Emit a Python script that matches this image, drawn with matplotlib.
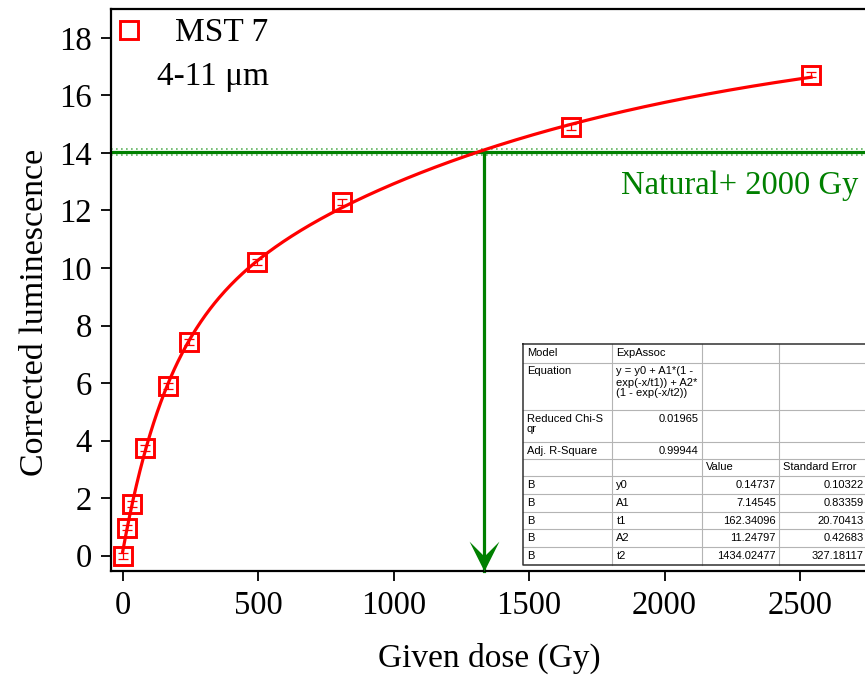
import numpy as np
import matplotlib
matplotlib.use("Agg")
import matplotlib.pyplot as plt
from matplotlib.path import Path
from matplotlib.lines import Line2D

plt.rcParams["font.family"] = ["Liberation Serif", "DejaVu Serif"]

# Measured regenerated doses and corrected luminescence
dose_gy = [0, 17, 35, 82, 166, 246, 497, 808, 1654, 2541]
lum = [0.0, 0.98, 1.79, 3.74, 5.90, 7.44, 10.22, 12.29, 14.90, 16.72]
lum_err = [0.10, 0.10, 0.10, 0.10, 0.10, 0.10, 0.10, 0.10, 0.10, 0.10]

# ExpAssoc fit parameters (value, standard error)
fit_names = ["y0", "A1", "t1", "A2", "t2"]
fit_values = [0.14737, 7.14545, 162.34096, 11.24797, 1434.02477]
fit_errors = [0.10322, 0.83359, 20.70413, 0.42683, 327.18117]
reduced_chi_sqr = 0.01965
adj_r_square = 0.99944

# Natural + 2000 Gy signal level and its uncertainty band
natural_level = 14.03
natural_err = 0.11
natural_dose = 1333

x_ticks = [0, 500, 1000, 1500, 2000, 2500]
y_ticks = [0, 2, 4, 6, 8, 10, 12, 14, 16, 18]

W, H = 865, 677
fig = plt.figure(figsize=(W / 100, H / 100), dpi=100)

px_per_gy = 0.2709
x0_px, y_bot_px, y_top_px, left_px = 122.7, 570.7, 9.0, 110.8
xmin, xmax = -44, 2750
ymin, ymax = -0.52, 19.0
right_px = x0_px + xmax * px_per_gy
ax_w_px = right_px - left_px
ax_h_px = y_bot_px - y_top_px
ax = fig.add_axes([left_px / W, 1 - y_bot_px / H, ax_w_px / W, ax_h_px / H])
ax.set_xlim(xmin, xmax)
ax.set_ylim(ymin, ymax)

red = "#ff0000"
green = "#008000"

# fitted curve from the tabulated parameters
y0, A1, t1, A2, t2 = fit_values
xf = np.linspace(0, max(dose_gy), 600)
yf = y0 + A1 * (1 - np.exp(-xf / t1)) + A2 * (1 - np.exp(-xf / t2))
ax.plot(xf, yf, color=red, lw=2.3, zorder=3)

ax.errorbar(dose_gy, lum, yerr=lum_err, fmt="none", ecolor=red,
            elinewidth=0.9, capsize=3.5, capthick=0.9, zorder=4)
ax.plot(dose_gy, lum, ls="none", marker="s", ms=12.5, mfc="none",
        mec=red, mew=2.1, zorder=5)

# natural level line with dotted error band
ax.axhline(natural_level, color=green, lw=2.3, zorder=2)
for s in (-1, 1):
    ax.axhline(natural_level + s * natural_err, color="#5fb35f", lw=1.2,
               ls=(0, (1.0, 2.0)), zorder=2)
ax.plot([natural_dose, natural_dose], [natural_level, ymin], color=green,
        lw=2.3, zorder=2, clip_on=False)
head = Path([(0, 0), (-15, 30), (0, 15), (15, 30), (0, 0)],
            [Path.MOVETO, Path.LINETO, Path.LINETO, Path.LINETO, Path.CLOSEPOLY])
ax.plot([natural_dose], [ymin], marker=head, ms=43, color=green, mew=0,
        ls="none", clip_on=False, zorder=6)
ax.text(2714, 12.86, "Natural+ 2000 Gy", color=green, fontsize=23.5,
        ha="right", va="center")

# axes styling
for side in ("left", "bottom", "top"):
    ax.spines[side].set_linewidth(1.6)
ax.spines["right"].set_visible(False)
ax.set_xticks(x_ticks)
ax.set_yticks(y_ticks)
ax.tick_params(direction="out", length=7.5, width=1.3, labelsize=23.5, pad=6)
ax.tick_params(axis="x", pad=7)
ax.set_xlabel("Given dose (Gy)", fontsize=24)
ax.xaxis.set_label_coords((489 - left_px) / ax_w_px, -(643 - y_bot_px) / ax_h_px)
ax.set_ylabel("Corrected luminescence", fontsize=24.5)
ax.yaxis.set_label_coords(-(left_px - 50) / ax_w_px, (y_bot_px - 312) / ax_h_px)

# legend and sample annotation
proxy = Line2D([], [], ls="none", marker="s", ms=12.5, mfc="none", mec=red, mew=2.1)
ax.legend([proxy], ["MST 7"], loc="center left",
          bbox_to_anchor=(112 / W, 1 - 33 / H), bbox_transform=fig.transFigure,
          frameon=False, fontsize=24, handlelength=1.0, handletextpad=0.89,
          borderpad=0, borderaxespad=0)
fig.text(157 / W, 1 - 77 / H, "4-11 μm", fontsize=24, ha="left", va="center")

# fit report table drawn in pixel space
ov = fig.add_axes([0, 0, 1, 1], zorder=10)
ov.set_xlim(0, W)
ov.set_ylim(H, 0)
ov.axis("off")
ov.patch.set_visible(False)

cols = [522.7, 612.3, 701.7, 779.3, 867.0]
rows = [344.3, 362.5, 409.5, 441.5, 458.5, 476.0, 494.0, 511.5, 529.0, 547.0, 565.0]
ov.fill_between([cols[0], cols[-1]], rows[0], rows[-1], color="white", zorder=1)
for yy in rows[1:-1]:
    ov.plot([cols[0], cols[-1]], [yy, yy], color="#b4b4b4", lw=0.8, zorder=2)
for xx in cols[1:-1]:
    ov.plot([xx, xx], [rows[0], rows[-1]], color="#b4b4b4", lw=0.8, zorder=2)
ov.plot([cols[0], cols[-1], cols[-1], cols[0], cols[0]],
        [rows[0], rows[0], rows[-1], rows[-1], rows[0]], color="#303030",
        lw=1.1, zorder=3)

tf = dict(fontsize=8.0, family=["Liberation Sans", "DejaVu Sans"], zorder=4,
          va="center")


def cell_left(c, r, lines):
    for i, s in enumerate(lines):
        ov.text(cols[c] + 4, rows[r] + 9 + i * 11, s, ha="left", **tf)


def cell_right(c, r, s):
    ov.text(cols[c + 1] - 3.5, rows[r] + 9, s, ha="right", **tf)


cell_left(0, 0, ["Model"])
cell_left(1, 0, ["ExpAssoc"])
cell_left(0, 1, ["Equation"])
cell_left(1, 1, ["y = y0 + A1*(1 -", "exp(-x/t1)) + A2*", "(1 - exp(-x/t2))"])
cell_left(0, 2, ["Reduced Chi-S", "qr"])
cell_right(1, 2, f"{reduced_chi_sqr:.5f}")
cell_left(0, 3, ["Adj. R-Square"])
cell_right(1, 3, f"{adj_r_square:.5f}")
cell_left(2, 4, ["Value"])
cell_left(3, 4, ["Standard Error"])
for i, (n, v, e) in enumerate(zip(fit_names, fit_values, fit_errors)):
    r = 5 + i
    cell_left(0, r, ["B"])
    cell_left(1, r, [n])
    cell_right(2, r, f"{v:.5f}")
    cell_right(3, r, f"{e:.5f}")

fig.savefig("out.png", dpi=100)
